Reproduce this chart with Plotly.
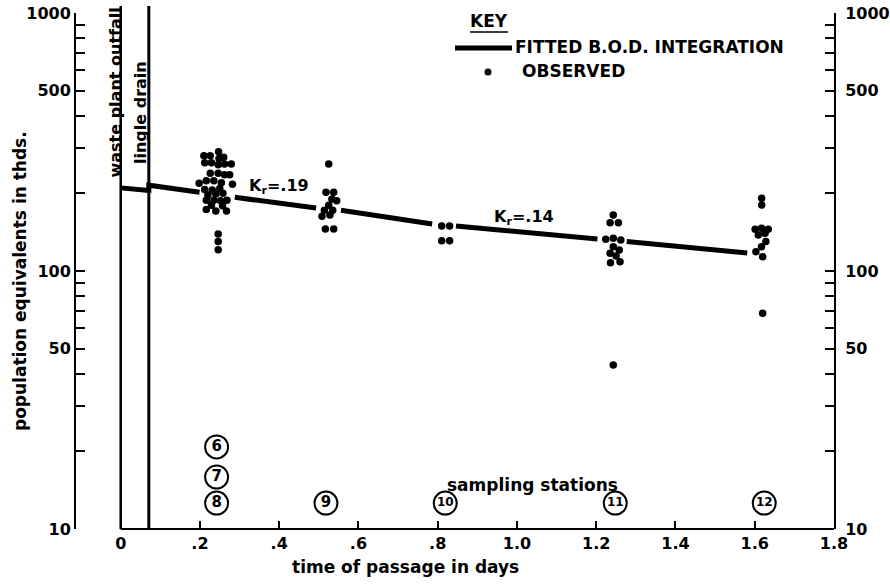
import plotly.graph_objects as go

# ---------------- data ----------------
# fitted B.O.D. integration (time in days, population equivalents in thousands);
# None marks the breaks where the curve passes behind the sampled clusters
fit_t = [0, 0.071, 0.071, 0.199, None, 0.288, 0.493, None, 0.556, 0.786, None, 0.846, 1.203, None, 1.277, 1.581]
fit_v = [210, 205, 215, 202, None, 193, 175.5, None, 172, 152, None, 149.5, 133, None, 130, 117.5]

# observed values at each sampling reach
obs_t_8 = [0.210, 0.226, 0.247, 0.260, 0.212, 0.229, 0.246, 0.262, 0.279, 0.226, 0.246, 0.262, 0.275,
           0.198, 0.216, 0.235, 0.254, 0.282, 0.212, 0.231, 0.250, 0.220, 0.240, 0.258, 0.216, 0.235,
           0.252, 0.268, 0.216, 0.240, 0.267, 0.229, 0.257, 0.248, 0.246, 0.246, 0.246]
obs_v_8 = [280, 280, 290, 276, 263, 263, 258, 260, 260, 239, 239, 236, 236,
           219, 224, 224, 220, 217, 207, 206, 209, 197, 199, 200, 188, 188,
           187, 188, 173, 171, 171, 180, 179, 273, 139, 130, 121]
obs_t_9 = [0.525, 0.518, 0.5375, 0.533, 0.545, 0.525, 0.514, 0.535, 0.508, 0.528, 0.5165, 0.5375]
obs_v_9 = [260, 202, 202, 190, 187, 180, 172, 172, 163, 165, 145.5, 145.5]
obs_t_10 = [0.810, 0.830, 0.810, 0.830]
obs_v_10 = [149.5, 149.5, 131, 131]
obs_t_11 = [1.243, 1.235, 1.256, 1.224, 1.243, 1.262, 1.243, 1.258, 1.235, 1.250, 1.236, 1.260, 1.243]
obs_v_11 = [164.8, 153.9, 153.9, 132.7, 134.0, 131.9, 124.2, 120.6, 117.1, 114.3, 107.7, 108.7, 43.2]
obs_t_12 = [1.6175, 1.6175, 1.601, 1.617, 1.634, 1.609, 1.626, 1.628, 1.617, 1.603, 1.620, 1.620]
obs_v_12 = [191.6, 180.3, 145, 146.4, 145, 137.9, 140, 130, 124.2, 118.8, 113.6, 68.6]

# sampling stations
station_labels = ["6", "7", "8", "9", "10", "11", "12"]
station_t = [0.242, 0.242, 0.242, 0.518, 0.819, 1.248, 1.624]

# discharge points
outfall_t = 0.0
drain_t = 0.071

# reaction coefficients of the two fitted reaches
kr_labels = ["K<sub>r</sub>=.19", "K<sub>r</sub>=.14"]

# axis ticks
x_tickvals = [0, 0.2, 0.4, 0.6, 0.8, 1.0, 1.2, 1.4, 1.6, 1.8]
x_ticktext = ["0", ".2", ".4", ".6", ".8", "1.0", "1.2", "1.4", "1.6", "1.8"]
y_tickvals = [10, 20, 30, 40, 50, 60, 70, 80, 90, 100, 200, 300, 400, 500, 600, 700, 800, 900, 1000]
y_labeled = [10, 50, 100, 500, 1000]

# ---------------- layout geometry ----------------
W, H = 890, 584
L, R, T, B = 76, 834, 13, 529          # plot area in pixels
FONT = "DejaVu Sans"


def px_x(p):
    return (p - L) / (R - L)


def px_y(p):
    return (B - p) / (B - T)


y_ticktext = [str(v) if v in y_labeled else "" for v in y_tickvals]

# circled station markers sit in three rows near the bottom of the chart
row_levels = [20.8, 15.9, 12.6, 12.6, 12.6, 12.6, 12.6]
station_font_sizes = [15 if len(s) == 1 else 12 for s in station_labels]

obs_t = obs_t_8 + obs_t_9 + obs_t_10 + obs_t_11 + obs_t_12
obs_v = obs_v_8 + obs_v_9 + obs_v_10 + obs_v_11 + obs_v_12

fig = go.Figure()

fig.add_trace(go.Scatter(
    x=fit_t, y=fit_v, mode="lines", connectgaps=False,
    line=dict(color="black", width=5), showlegend=False, hoverinfo="skip",
))
fig.add_trace(go.Scatter(
    x=obs_t, y=obs_v, mode="markers",
    marker=dict(color="black", size=7.5, line=dict(width=0)), showlegend=False,
))
fig.add_trace(go.Scatter(
    x=station_t, y=row_levels, mode="markers+text", text=station_labels,
    textposition="middle center",
    textfont=dict(family=FONT, size=station_font_sizes, color="black", weight="bold"),
    marker=dict(symbol="circle-open", size=23, color="black", line=dict(width=2, color="black")),
    showlegend=False, cliponaxis=False,
))
# carries the right-hand scale
fig.add_trace(go.Scatter(x=[None], y=[None], yaxis="y2", showlegend=False))

axis_font = dict(family=FONT, size=16, color="black", weight="bold")
yaxis_common = dict(
    type="log", range=[1, 3], showgrid=False, zeroline=False,
    showline=True, linecolor="black", linewidth=2,
    ticks="inside", ticklen=9, tickwidth=1.5, tickcolor="black",
    tickvals=y_tickvals, ticktext=y_ticktext, tickfont=axis_font,
    automargin=False,
)

fig.update_layout(
    width=W, height=H,
    margin=dict(l=L, r=W - R, t=T, b=H - B, autoexpand=False),
    paper_bgcolor="white", plot_bgcolor="white",
    font=dict(family=FONT, color="black"),
    xaxis=dict(
        range=[(L - 120.7) / 396.3, 1.8], showgrid=False, zeroline=False, showline=False,
        ticks="inside", ticklen=8, tickwidth=1.5, tickcolor="black",
        tickvals=x_tickvals, ticktext=x_ticktext, tickfont=axis_font,
        ticklabelstandoff=3, automargin=False,
    ),
    yaxis=yaxis_common,
    yaxis2=dict(yaxis_common, overlaying="y", side="right", anchor="x", ticklabelstandoff=6),
)

shapes = [
    # time axis runs from the outfall to 1.8 days
    dict(type="line", xref="x", yref="paper", x0=0, x1=1.8, y0=0, y1=0,
         line=dict(color="black", width=2)),
    dict(type="line", xref="x", yref="paper", x0=outfall_t, x1=outfall_t, y0=0, y1=px_y(6),
         line=dict(color="black", width=2.5)),
    dict(type="line", xref="x", yref="paper", x0=drain_t, x1=drain_t, y0=0, y1=px_y(6),
         line=dict(color="black", width=3)),
    # key
    dict(type="line", xref="paper", yref="paper", x0=px_x(470), x1=px_x(508), y0=px_y(32), y1=px_y(32),
         line=dict(color="black", width=1.5)),
    dict(type="line", xref="paper", yref="paper", x0=px_x(455), x1=px_x(512), y0=px_y(48), y1=px_y(48),
         line=dict(color="black", width=5)),
    dict(type="circle", xref="paper", yref="paper", x0=px_x(484.5), x1=px_x(491.5),
         y0=px_y(75.5), y1=px_y(68.5), fillcolor="black", line=dict(color="black", width=0)),
]
fig.update_layout(shapes=shapes)

ann = []


def add_text(text, x, y, size=16, xref="paper", yref="paper", xanchor="center", yanchor="middle", angle=0):
    ann.append(dict(text=text, x=x, y=y, xref=xref, yref=yref, xanchor=xanchor, yanchor=yanchor,
                    textangle=angle, showarrow=False,
                    font=dict(family=FONT, size=size, color="black", weight="bold")))


add_text("KEY", px_x(489), px_y(21), size=17)
add_text("FITTED B.O.D. INTEGRATION", px_x(513), px_y(47), size=17, xanchor="left")
add_text("OBSERVED", px_x(520), px_y(71.5), size=17, xanchor="left")

add_text(kr_labels[0], (279 - 120.7) / 396.3, px_y(186), size=16, xref="x")
add_text(kr_labels[1], (524 - 120.7) / 396.3, px_y(217), size=16, xref="x")

add_text("waste plant outfall", px_x(114.5), px_y(93), size=16, angle=-90)
add_text("lingle drain", px_x(140.5), px_y(112.5), size=16, angle=-90)

add_text("sampling stations", px_x(532), px_y(485), size=17)
add_text("time of passage in days", px_x(405), px_y(567), size=17)
add_text("population equivalents in thds.", px_x(20), px_y(281), size=17, angle=-90)

fig.update_layout(annotations=ann)

fig.write_html("out.html")
